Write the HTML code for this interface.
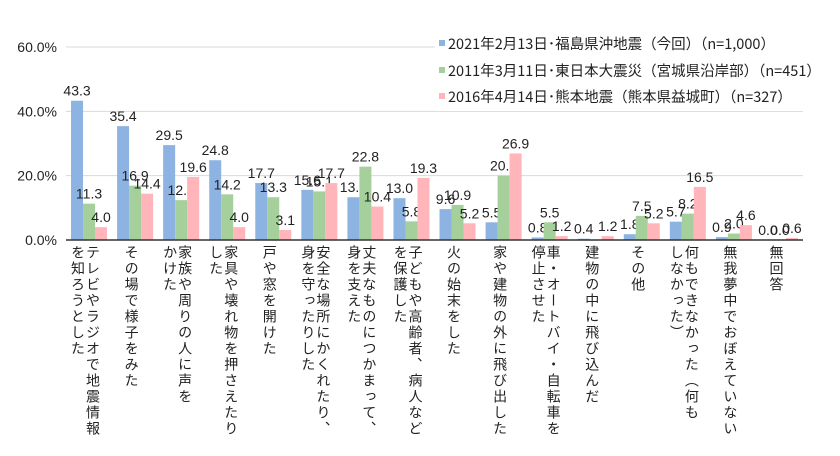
<!DOCTYPE html>
<html><head><meta charset="utf-8">
<style>
body{margin:0;background:#fff;}
#wrap{position:relative;width:840px;height:456px;overflow:hidden;font-family:"Liberation Sans","Noto Sans CJK JP",sans-serif;color:#222;}
.vl{position:absolute;top:245px;writing-mode:vertical-rl;font-size:14px;letter-spacing:2px;line-height:15px;white-space:nowrap;transform:translateX(-50%);}
.leg{position:absolute;left:435px;top:33px;width:370px;height:78px;background:#fff;font-size:14.5px;font-family:"Noto Sans CJK JP",sans-serif;}
.leg div{position:absolute;left:4px;white-space:nowrap;line-height:18px;}
.leg span{display:inline-block;width:6px;height:6px;margin-right:3px;vertical-align:3px;}
</style></head>
<body>
<div id="wrap">
<svg id="svg" width="840" height="456" style="position:absolute;left:0;top:0"></svg>
<div class="leg">
<div style="top:2px"><span style="background:#8db3e2"></span>2021年2月13日･福島県沖地震（今回）（n=1,000）</div>
<div style="top:29px"><span style="background:#a6d09b"></span>2011年3月11日･東日本大震災（宮城県沿岸部）（n=451）</div>
<div style="top:55px"><span style="background:#ffb5ba"></span>2016年4月14日･熊本地震（熊本県益城町）（n=327）</div>
</div>
</div>
<script>
const categories=[["テレビやラジオで地震情報","を知ろうとした"],["その場で様子をみた"],["家族や周りの人に声を","かけた"],["家具や壊れ物を押さえたり","した"],["戸や窓を開けた"],["安全な場所にかくれたり、","身を守ったりした"],["丈夫なものにつかまって、","身を支えた"],["子どもや高齢者、病人など","を保護した"],["火の始末をした"],["家や建物の外に飛び出した"],["車・オートバイ・自転車を","停止させた"],["建物の中に飛び込んだ"],["その他"],["何もできなかった（何も","しなかった）"],["無我夢中でおぼえていない"],["無回答"]];
const s2021=[43.3,35.4,29.5,24.8,17.7,15.6,13.3,13.0,9.6,5.5,0.8,0.4,1.8,5.7,0.9,0.0];
const s2011=[11.3,16.9,12.4,14.2,13.3,15.1,22.8,5.8,10.9,20.0,5.5,0,7.5,8.2,2.0,0.0];
const s2016=[4.0,14.4,19.6,4.0,3.1,17.7,10.4,19.3,5.2,26.9,1.2,1.2,5.2,16.5,4.6,0.6];
const hasGreen=[1,1,1,1,1,1,1,1,1,1,1,0,1,1,1,1];
const yTicks=[0,20,40,60];
const seriesList=[s2021,s2011,s2016];
const colors=["#8db3e2","#a6d09b","#ffb5ba"];
const X0=66,X1=803,Y0=240,Y60=47;
const gw=(X1-X0)/categories.length;
const y=v=>Y0-(v/60)*(Y0-Y60);
const xc=i=>X0+gw*(i+0.5);
const svg=document.getElementById('svg');
const NS="http://www.w3.org/2000/svg";
function mk(t,a){const e=document.createElementNS(NS,t);for(const k in a)e.setAttribute(k,a[k]);svg.appendChild(e);return e;}
yTicks.forEach(t=>{
 if(t>0){const g=mk('line',{x1:X0,x2:X1,y1:y(t),y2:y(t),stroke:'#d9d9d9','stroke-width':1});
 
 }
 const tx=mk('text',{x:57,y:y(t)+5,'text-anchor':'end','font-size':14,fill:'#222','font-family':'Liberation Sans, sans-serif'});
 tx.textContent=t.toFixed(1)+'%';
 
 
});
const bw=12;
categories.forEach((c,i)=>{
 seriesList.forEach((s,j)=>{
  const v=s[i];
  const bx=xc(i)-18+j*bw;
  const r=mk('rect',{x:bx,y:y(v),width:bw,height:Y0-y(v),fill:colors[j]});
  
  
  if(j===1&&!hasGreen[i])return;
  const t=mk('text',{x:bx+bw/2,y:y(v)-5,'text-anchor':'middle','font-size':14,fill:'#222','font-family':'Liberation Sans, sans-serif'});
  t.textContent=v.toFixed(1);
  
  
 });
 const n=c.length;
 c.forEach((col,k)=>{
  const d=document.createElement('div');
  d.className='vl';
  d.style.left=(xc(i)-4+(n-1)*7.5-k*15)+'px';
  d.textContent=col;
  
  
  document.getElementById('wrap').appendChild(d);
 });
});
const ax=mk('line',{x1:X0,x2:X1,y1:Y0,y2:Y0,stroke:'#333','stroke-width':1.5});


</script>
</body></html>
